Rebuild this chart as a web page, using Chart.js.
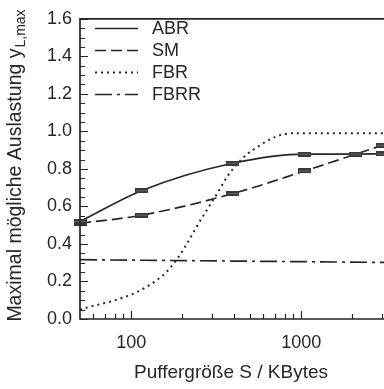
<!DOCTYPE html>
<html lang="de">
<head>
<meta charset="utf-8">
<title>Maximal mögliche Auslastung</title>
<script src="https://cdn.jsdelivr.net/npm/chart.js@4/dist/chart.umd.min.js"></script>
<style>
  html, body { margin: 0; padding: 0; background: #ffffff; overflow: hidden; }
  #chartWrap { width: 430px; height: 389px; }
</style>
</head>
<body>
<div id="chartWrap"><canvas id="utilChart" width="430" height="389"></canvas></div>
<script>
// ---- data ----
const markerSizesKB = [50, 115, 395, 1050, 2100, 3000];          // ABR / SM measurement points
const abrValues     = [0.52, 0.684, 0.83, 0.879, 0.879, 0.88];
const smValues      = [0.51, 0.553, 0.668, 0.789, 0.879, 0.926];

const fbrSizesKB = [50, 56, 80, 106, 138, 163, 187, 214, 244, 280, 320, 367, 420, 481, 551, 657, 783, 946, 1200, 2000, 5000];
const fbrValues  = [0.05, 0.063, 0.10, 0.14, 0.2, 0.255, 0.322, 0.405, 0.495, 0.584, 0.668, 0.758, 0.826, 0.879, 0.916, 0.958, 0.984, 0.99, 0.99, 0.99, 0.99];

const fbrrSizesKB = [50, 5000];
const fbrrValues  = [0.316, 0.30];

const seriesLabels = ['ABR', 'SM', 'FBR', 'FBRR'];

// axis ticks
const xMajorTicks = [100, 1000];
const xMinorTicks = [60, 70, 80, 90, 200, 300, 400, 500, 600, 700, 800, 900, 2000, 3000, 4000];
const yTickStep = 0.2;
const yMinorStep = 0.05;

const xTitle = 'Puffergröße S / KBytes';
const yTitleMain = 'Maximal mögliche Auslastung y';
const yTitleSub = 'L,max';

const INK = '#262626';
const FONT = "'Liberation Sans', Arial, Helvetica, sans-serif";

/**
 * pairs two arrays into {x, y} points
 */
function toPoints(xs, ys) {
    return xs.map((x, i) => ({ x: x, y: ys[i] }));
}

/**
 * small flat bar used as marker (error bar look)
 */
function makeMarker() {
    const c = document.createElement('canvas');
    c.width = 13;
    c.height = 5;
    const g = c.getContext('2d');
    g.fillStyle = '#3a3a3a';
    g.fillRect(0, 0, 13, 5);
    g.fillStyle = '#666666';
    g.fillRect(1, 2, 11, 1);
    return c;
}
const marker = makeMarker();

const dashStyles = {
    ABR: [],
    SM: [11, 5],
    FBR: [2, 4],
    FBRR: [17, 5, 3, 5]
};

/**
 * frame, inward ticks, legend and axis titles
 */
const decorPlugin = {
    id: 'decor',
    afterDraw(chart) {
        const { ctx, chartArea: a, scales: { x, y } } = chart;
        ctx.save();
        ctx.strokeStyle = INK;
        ctx.lineCap = 'butt';

        // frame (left, bottom, top)
        ctx.lineWidth = 1.7;
        ctx.beginPath();
        ctx.moveTo(a.right, a.top);
        ctx.lineTo(a.left, a.top);
        ctx.lineTo(a.left, a.bottom);
        ctx.lineTo(a.right, a.bottom);
        ctx.stroke();

        // y ticks pointing inward
        ctx.lineWidth = 1.2;
        ctx.beginPath();
        const nY = Math.round((y.max - y.min) / yMinorStep);
        for (let i = 0; i <= nY; i++) {
            const v = y.min + i * yMinorStep;
            const py = Math.round(y.getPixelForValue(v)) + 0.5;
            const len = (i % Math.round(yTickStep / yMinorStep) === 0) ? 8 : 5;
            ctx.moveTo(a.left, py);
            ctx.lineTo(a.left + len, py);
        }
        // x ticks pointing inward
        xMajorTicks.concat(xMinorTicks).forEach(v => {
            const px = Math.round(x.getPixelForValue(v)) + 0.5;
            const len = xMajorTicks.includes(v) ? 8 : 5;
            ctx.moveTo(px, a.bottom);
            ctx.lineTo(px, a.bottom - len);
        });
        ctx.stroke();

        // legend inside the plot
        ctx.font = '18px ' + FONT;
        ctx.fillStyle = INK;
        ctx.textBaseline = 'middle';
        ctx.textAlign = 'left';
        chart.data.datasets.forEach((ds, i) => {
            const ly = 28 + i * 22;
            ctx.lineWidth = ds.borderWidth;
            ctx.setLineDash(ds.borderDash || []);
            ctx.beginPath();
            ctx.moveTo(95, ly + 0.5);
            ctx.lineTo(138, ly + 0.5);
            ctx.stroke();
            ctx.setLineDash([]);
            ctx.fillText(ds.label, 152, ly + 1);
        });

        // x title
        ctx.textAlign = 'center';
        ctx.font = '19px ' + FONT;
        ctx.fillText(xTitle, 231, 373);

        // y title with subscript
        ctx.translate(16, 166);
        ctx.rotate(-Math.PI / 2);
        ctx.textAlign = 'left';
        ctx.font = '19.5px ' + FONT;
        const wMain = ctx.measureText(yTitleMain).width;
        ctx.font = '14px ' + FONT;
        const wSub = ctx.measureText(yTitleSub).width;
        const start = -(wMain + wSub) / 2;
        ctx.font = '19.5px ' + FONT;
        ctx.fillText(yTitleMain, start, 0);
        ctx.font = '14px ' + FONT;
        ctx.fillText(yTitleSub, start + wMain + 1, 5);

        ctx.restore();
    }
};

/**
 * builds the chart
 */
function renderChart() {
    const ctx = document.getElementById('utilChart');
    Chart.defaults.font.family = FONT;
    Chart.defaults.font.size = 18;
    Chart.defaults.color = INK;

    const lineBase = {
        borderColor: INK,
        backgroundColor: INK,
        borderWidth: 1.7,
        fill: false,
        cubicInterpolationMode: 'monotone'
    };

    new Chart(ctx, {
        type: 'line',
        data: {
            datasets: [
                Object.assign({}, lineBase, {
                    label: seriesLabels[0],
                    data: toPoints(markerSizesKB, abrValues),
                    borderDash: dashStyles.ABR,
                    pointStyle: marker,
                    pointRadius: 4,
                    clip: false
                }),
                Object.assign({}, lineBase, {
                    label: seriesLabels[1],
                    data: toPoints(markerSizesKB, smValues),
                    borderDash: dashStyles.SM,
                    pointStyle: marker,
                    pointRadius: 4,
                    clip: false
                }),
                Object.assign({}, lineBase, {
                    label: seriesLabels[2],
                    data: toPoints(fbrSizesKB, fbrValues),
                    borderDash: dashStyles.FBR,
                    borderWidth: 2,
                    pointRadius: 0
                }),
                Object.assign({}, lineBase, {
                    label: seriesLabels[3],
                    data: toPoints(fbrrSizesKB, fbrrValues),
                    borderDash: dashStyles.FBRR,
                    pointRadius: 0
                })
            ]
        },
        options: {
            responsive: false,
            animation: false,
            layout: { padding: { top: 15, right: 10, left: 0, bottom: 0 } },
            plugins: {
                legend: { display: false },
                tooltip: { enabled: false }
            },
            scales: {
                x: {
                    type: 'logarithmic',
                    min: 50,
                    max: 5000,
                    grid: { display: false, drawTicks: false },
                    border: { display: false },
                    afterFit: (scale) => { scale.height = 70; },
                    afterBuildTicks: (scale) => {
                        scale.ticks = xMajorTicks.map(v => ({ value: v }));
                    },
                    ticks: {
                        autoSkip: false,
                        maxRotation: 0,
                        padding: 13,
                        callback: (v) => String(v)
                    }
                },
                y: {
                    type: 'linear',
                    min: 0,
                    max: 1.6,
                    grid: { display: false, drawTicks: false },
                    border: { display: false },
                    afterFit: (scale) => { scale.width = 80; },
                    ticks: {
                        stepSize: yTickStep,
                        padding: 8,
                        callback: (v) => Number(v).toFixed(1)
                    }
                }
            }
        },
        plugins: [decorPlugin]
    });
}

window.onload = renderChart;
</script>
</body>
</html>
